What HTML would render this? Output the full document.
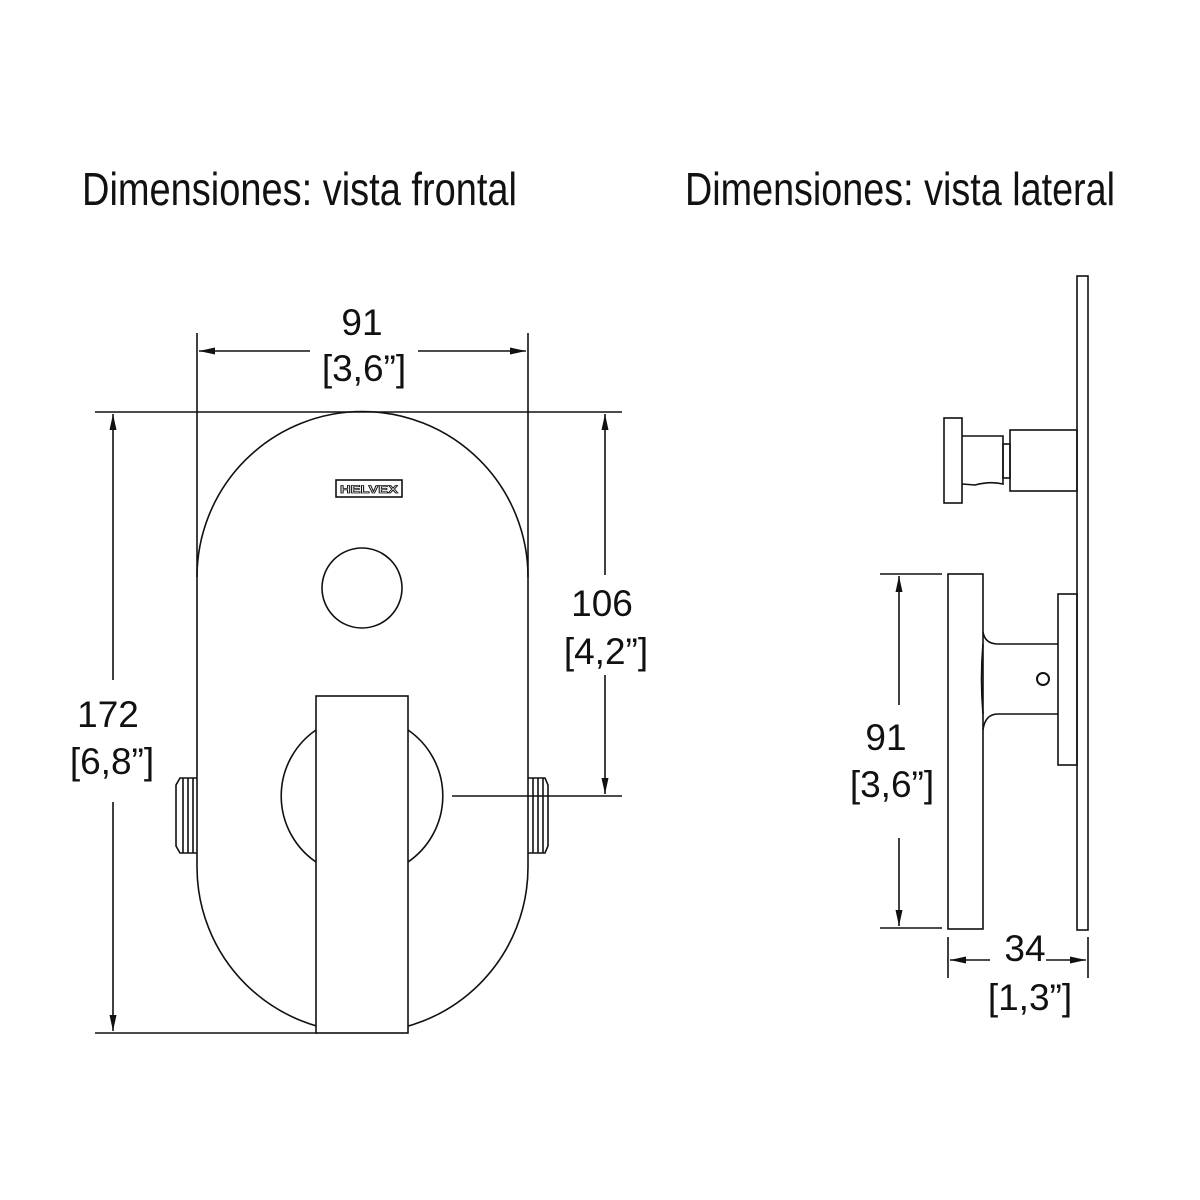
<!DOCTYPE html>
<html><head><style>body{margin:0;background:#fff}svg{display:block}</style></head><body>
<svg width="1200" height="1200" viewBox="0 0 1200 1200" xmlns="http://www.w3.org/2000/svg" font-family="Liberation Sans, sans-serif">
<defs>
<marker id="a" markerWidth="16" markerHeight="8" refX="16" refY="4" orient="auto" markerUnits="userSpaceOnUse"><path d="M0,0.5 L16,4 L0,7.5 Z" fill="#111"/></marker>
</defs>
<g fill="#111">
<text x="82" y="205" font-size="46" textLength="435" lengthAdjust="spacingAndGlyphs">Dimensiones: vista frontal</text>
<text x="685" y="205" font-size="46" textLength="430" lengthAdjust="spacingAndGlyphs">Dimensiones: vista lateral</text>
<g font-size="37" text-anchor="middle">
<text x="362" y="335">91</text>
<text x="364" y="381">[3,6”]</text>
<text x="602" y="616">106</text>
<text x="606" y="664">[4,2”]</text>
<text x="108" y="727">172</text>
<text x="112" y="774">[6,8”]</text>
<text x="886" y="750">91</text>
<text x="892" y="797">[3,6”]</text>
<text x="1025" y="961">34</text>
<text x="1030" y="1010">[1,3”]</text>
</g>
</g>
<g fill="none" stroke="#111" stroke-width="1.6">
<!-- front view -->
<line x1="197" y1="333" x2="197" y2="577"/>
<line x1="528" y1="333" x2="528" y2="577"/>
<line x1="310" y1="351" x2="199" y2="351" marker-end="url(#a)"/>
<line x1="418" y1="351" x2="526" y2="351" marker-end="url(#a)"/>
<line x1="95" y1="412" x2="622" y2="412"/>
<line x1="95" y1="1033" x2="318" y2="1033"/>
<line x1="113" y1="680" x2="113" y2="414" marker-end="url(#a)"/>
<line x1="113" y1="802" x2="113" y2="1031" marker-end="url(#a)"/>
<line x1="605" y1="575" x2="605" y2="414" marker-end="url(#a)"/>
<line x1="605" y1="675" x2="605" y2="794" marker-end="url(#a)"/>
<line x1="452" y1="796" x2="622" y2="796"/>
<path d="M197,577 A165.5,165.5 0 0 1 528,577 L528,867 A165.5,165.5 0 0 1 197,867 Z"/>
<rect x="336" y="480" width="66" height="17"/>
<circle cx="362" cy="588" r="40"/>
<path d="M316,730 A80,80 0 0 0 316,862"/>
<path d="M408,730 A80,80 0 0 1 408,862"/>
<rect x="316" y="696" width="92" height="337" fill="#fff"/>
<path d="M197,778 L180,778 L176,785 L176,846 L180,853 L197,853"/>
<line x1="183" y1="778" x2="183" y2="853"/><line x1="188" y1="778" x2="188" y2="853"/><line x1="193" y1="778" x2="193" y2="853"/>
<path d="M528,778 L545,778 L548,785 L548,846 L545,853 L528,853"/>
<line x1="533" y1="778" x2="533" y2="853"/><line x1="538" y1="778" x2="538" y2="853"/><line x1="543" y1="778" x2="543" y2="853"/>
<!-- side view -->
<rect x="1077" y="276" width="11" height="654"/>
<rect x="944" y="418" width="18" height="85"/>
<path d="M962,436 L1003,436 L1003,484 Q990,481 975,485 L962,484"/>
<rect x="1003" y="444" width="7" height="34"/>
<rect x="1010" y="430" width="67" height="61"/>
<rect x="948" y="574" width="35" height="355"/>
<path d="M983,632 Q985,644 998,644 L1058,644"/>
<path d="M983,730 Q985,714 998,714 L1058,714"/>
<path d="M983,644 Q980,679 983,714"/>
<rect x="1058" y="594" width="19" height="171"/>
<circle cx="1043" cy="679" r="6" stroke-width="2"/>
<line x1="880" y1="574" x2="942" y2="574"/>
<line x1="880" y1="928" x2="942" y2="928"/>
<line x1="899" y1="705" x2="899" y2="576" marker-end="url(#a)"/>
<line x1="899" y1="838" x2="899" y2="926" marker-end="url(#a)"/>
<line x1="948" y1="937" x2="948" y2="978"/>
<line x1="1088" y1="937" x2="1088" y2="978"/>
<line x1="990" y1="960" x2="950" y2="960" marker-end="url(#a)"/>
<line x1="1046" y1="960" x2="1086" y2="960" marker-end="url(#a)"/>
</g>
<text x="369" y="493" font-size="11" font-weight="bold" text-anchor="middle" fill="#fff" stroke="#111" stroke-width="0.8" textLength="58" lengthAdjust="spacingAndGlyphs">HELVEX</text>
</svg>
</body></html>
